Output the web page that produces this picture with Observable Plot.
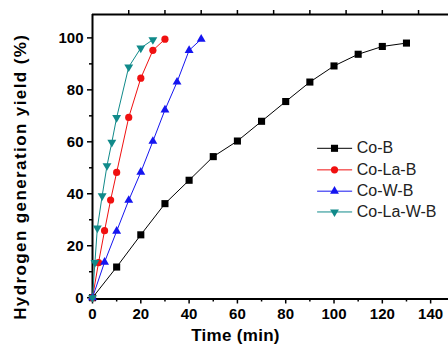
<!DOCTYPE html>
<html>
<head>
<meta charset="utf-8">
<script src="https://cdn.jsdelivr.net/npm/d3@7"></script>
<script src="https://cdn.jsdelivr.net/npm/@observablehq/plot@0.6"></script>
<style>
  html, body { margin: 0; padding: 0; background: white; overflow: hidden; }
</style>
</head>
<body>
<div id="chart"></div>
<script>
// ---- data ----
const seriesNames = ["Co-B", "Co-La-B", "Co-W-B", "Co-La-W-B"];
const timeCoB = [0, 10, 20, 30, 40, 50, 60, 70, 80, 90, 100, 110, 120, 130];
const yieldCoB = [0, 11.8, 24.2, 36.2, 45.2, 54.3, 60.3, 67.9, 75.5, 83.0, 89.2, 93.7, 96.7, 98.0];
const timeCoLaB = [0, 2.5, 5, 7.5, 10, 15, 20, 25, 30];
const yieldCoLaB = [0, 13.5, 25.8, 37.6, 48.2, 69.4, 84.5, 95.2, 99.5];
const timeCoWB = [0, 5, 10, 15, 20, 25, 30, 35, 40, 45];
const yieldCoWB = [0, 13.7, 25.6, 37.5, 48.3, 60.2, 72.3, 83.0, 95.2, 99.5];
const timeCoLaWB = [0, 1, 2, 4, 6, 8, 10, 15, 20, 25];
const yieldCoLaWB = [0, 13.5, 26.8, 39.2, 50.8, 59.8, 69.3, 88.8, 96.1, 99.3];

const xTicks = [0, 20, 40, 60, 80, 100, 120, 140];
const xMinorTicks = [10, 30, 50, 70, 90, 110, 130];
const xTopTicks = [15, 30, 45, 60, 75, 90, 105, 120, 135];
const yTicks = [0, 20, 40, 60, 80, 100];
const yMinorTicks = [10, 30, 50, 70, 90];
const xTitle = "Time (min)";
const yTitle = "Hydrogen generation yield (%)";

// ---- layout / style ----
const xDomain = [0, 147.4];
const yDomain = [-0.5, 109];
const colors = ["#000000", "#f01010", "#1515f0", "#108a8a"];
const downTriangle = {
  draw(context, size) {
    const y = -Math.sqrt(size / (Math.sqrt(3) * 3));
    context.moveTo(0, -y * 2);
    context.lineTo(-Math.sqrt(3) * y, y);
    context.lineTo(Math.sqrt(3) * y, y);
    context.closePath();
  }
};
const symbols = [d3.symbolSquare, d3.symbolCircle, d3.symbolTriangle, downTriangle];
const radii = [4, 3.6, 3.3, 3.3];
// legend placement in data units
const legendLine = [93, 107.5];
const legendMarkX = 100.2;
const legendTextX = 109.4;
const legendYs = [57.5, 49.2, 41.0, 33.0];

const times = [timeCoB, timeCoLaB, timeCoWB, timeCoLaWB];
const yields = [yieldCoB, yieldCoLaB, yieldCoWB, yieldCoLaWB];
const series = seriesNames.map((name, i) => ({
  name,
  rows: times[i].map((t, j) => ({t, v: yields[i][j]}))
}));

const marks = [];
// frame lines
marks.push(Plot.ruleX([xDomain[0]], {stroke: "#000", strokeWidth: 2}));
marks.push(Plot.ruleY([yDomain[0], yDomain[1]], {stroke: "#000", strokeWidth: 2}));
// axes
marks.push(Plot.axisY(yTicks, {tickSize: 5, tickPadding: 4, fontSize: 15, fontWeight: "bold", label: null, strokeWidth: 1.5}));
marks.push(Plot.axisY(yMinorTicks, {tickSize: 3, tickFormat: () => "", label: null, strokeWidth: 1.5}));
marks.push(Plot.axisX(xTicks, {anchor: "bottom", tickSize: 5, tickPadding: 4, fontSize: 15, fontWeight: "bold", label: null, strokeWidth: 1.5}));
marks.push(Plot.axisX(xMinorTicks, {anchor: "bottom", tickSize: 3, tickFormat: () => "", label: null, strokeWidth: 1.5}));
marks.push(Plot.axisX(xTopTicks, {anchor: "top", tickSize: 5, tickFormat: () => "", label: null, strokeWidth: 1.5}));

// series
series.forEach((s, i) => {
  marks.push(Plot.line(s.rows, {x: "t", y: "v", stroke: colors[i], strokeWidth: 1}));
  marks.push(Plot.dot(s.rows, {x: "t", y: "v", fill: colors[i], stroke: "none", symbol: symbols[i], r: radii[i]}));
});

// legend
series.forEach((s, i) => {
  const row = [{x1: legendLine[0], x2: legendLine[1], mx: legendMarkX, tx: legendTextX, y: legendYs[i], name: s.name}];
  marks.push(Plot.link(row, {x1: "x1", x2: "x2", y1: "y", y2: "y", stroke: colors[i], strokeWidth: 1}));
  marks.push(Plot.dot(row, {x: "mx", y: "y", fill: colors[i], stroke: "none", symbol: symbols[i], r: radii[i]}));
  marks.push(Plot.text(row, {x: "tx", y: "y", text: "name", textAnchor: "start", fontSize: 16, fill: "#222"}));
});

// titles
marks.push(Plot.text([xTitle], {frameAnchor: "bottom", textAnchor: "middle", lineAnchor: "middle", dx: -35, dy: 37, fontSize: 17, fontWeight: "bold"}));
marks.push(Plot.text([yTitle], {frameAnchor: "left", textAnchor: "middle", lineAnchor: "middle", rotate: -90, dx: -72, dy: 20, fontSize: 17, fontWeight: "bold"}));

const chart = Plot.plot({
  width: 448,
  height: 347,
  marginLeft: 92,
  marginRight: 0,
  marginTop: 14,
  marginBottom: 48.5,
  x: {domain: xDomain},
  y: {domain: yDomain},
  style: {fontFamily: "'Liberation Sans', Arial, sans-serif", background: "white", color: "#000", overflow: "hidden"},
  marks
});
d3.select(chart).selectAll("text").filter(function () { return this.textContent === yTitle; })
  .attr("letter-spacing", "1.4px");
d3.select(chart).selectAll("text").filter(function () { return this.textContent === xTitle; })
  .attr("letter-spacing", "0.3px");
document.getElementById("chart").appendChild(chart);
</script>
</body>
</html>
